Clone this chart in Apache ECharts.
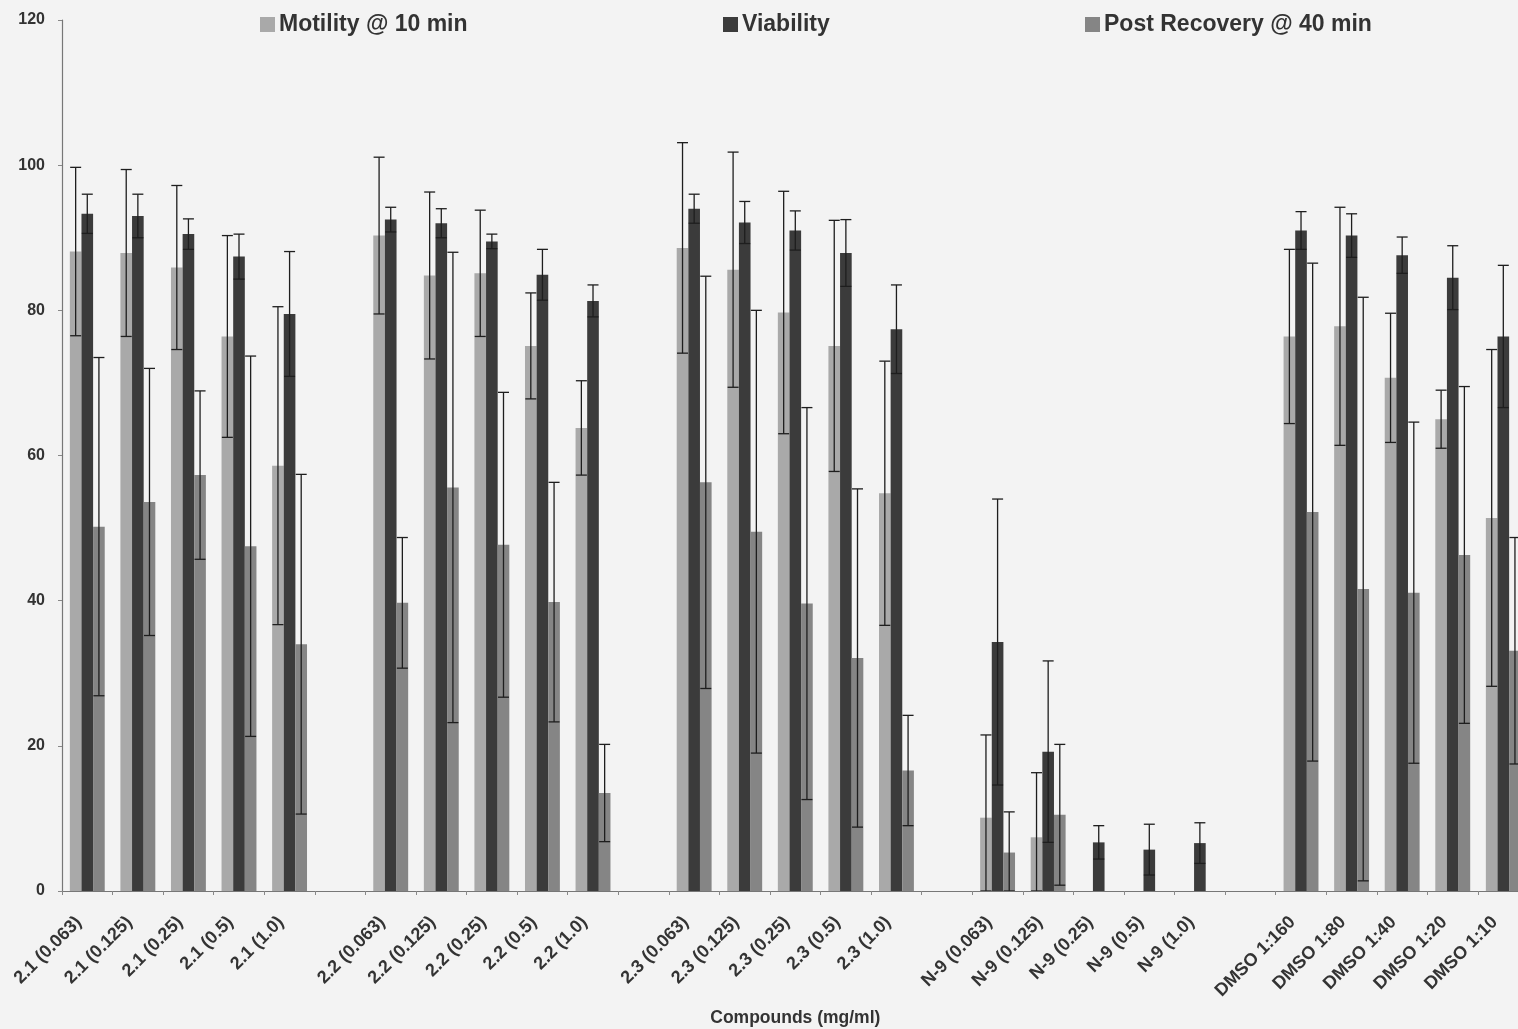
<!DOCTYPE html>
<html>
<head>
<meta charset="utf-8">
<script src="https://cdn.jsdelivr.net/npm/echarts@6/dist/echarts.min.js"></script>
<style>
html,body{margin:0;padding:0;background:#f3f3f3;overflow:hidden;width:100%;height:100%;}
#chart{position:absolute;left:0;top:0;width:1518px;height:1029px;}
</style>
</head>
<body>
<div id="chart"></div>
<script>
const categories = [
  '2.1 (0.063)','2.1 (0.125)','2.1 (0.25)','2.1 (0.5)','2.1 (1.0)',' ',
  '2.2 (0.063)','2.2 (0.125)','2.2 (0.25)','2.2 (0.5)','2.2 (1.0)','  ',
  '2.3 (0.063)','2.3 (0.125)','2.3 (0.25)','2.3 (0.5)','2.3 (1.0)','   ',
  'N-9 (0.063)','N-9 (0.125)','N-9 (0.25)','N-9 (0.5)','N-9 (1.0)','    ',
  'DMSO 1:160','DMSO 1:80','DMSO 1:40','DMSO 1:20','DMSO 1:10'
];
const seriesNames = ['Motility @ 10 min','Viability','Post Recovery @ 40 min'];
const motility    = [88.1,87.9,85.9,76.4,58.6,null, 90.3,84.8,85.1,75.1,63.8,null, 88.6,85.6,79.7,75.1,54.8,null, 10.1,7.4,0,0,0,null, 76.4,77.8,70.7,65.0,51.4];
const motilityErr = [11.6,11.5,11.3,13.9,21.9,null, 10.8,11.5,8.7,7.3,6.5,null, 14.5,16.2,16.7,17.3,18.2,null, 11.4,8.9,0,0,0,null, 12.0,16.4,8.9,4.0,23.2];
const viability    = [93.3,93.0,90.5,87.4,79.5,null, 92.5,92.0,89.5,84.9,81.3,null, 94.0,92.1,91.0,87.9,77.4,null, 34.3,19.2,6.7,5.7,6.6,null, 91.0,90.3,87.6,84.5,76.4];
const viabilityErr = [2.7,3.0,2.1,3.1,8.6,null, 1.7,2.0,1.0,3.5,2.2,null, 2.0,2.9,2.7,4.6,6.1,null, 19.7,12.5,2.3,3.5,2.8,null, 2.6,3.0,2.5,4.4,9.8];
const postRecovery    = [50.2,53.6,57.3,47.5,34.0,null, 39.7,55.6,47.7,39.8,13.5,null, 56.3,49.5,39.6,32.1,16.6,null, 5.3,10.5,0,0,0,null, 52.2,41.6,41.1,46.3,33.1];
const postRecoveryErr = [23.3,18.4,11.6,26.2,23.4,null, 9.0,32.4,21.0,16.5,6.7,null, 28.4,30.5,27.0,23.3,7.6,null, 5.6,9.7,0,0,0,null, 34.3,40.2,23.5,23.2,15.6];
const yTicks = {min:0, max:120, interval:20};

const colors = ['#a9a9a9','#3b3b3b','#858585'];
const FONT = 'Liberation Sans, Arial, sans-serif';
const GAP_FRAC = 0.31;
const BAR_FRAC = (1 - GAP_FRAC) / 3;

function errData(vals, errs){
  const out = [];
  vals.forEach((v,i)=>{ if(v!==null && errs[i]) out.push([i, v, errs[i]]); });
  return out;
}
function errSeries(vals, errs, k){
  return {
    type:'custom', name:'err'+k, z:5, silent:true, clip:true,
    encode:{x:0,y:1},
    data: errData(vals, errs),
    renderItem: function(params, api){
      const i = api.value(0), v = api.value(1), e = api.value(2);
      const band = api.size([1,0])[0];
      const off = band * BAR_FRAC * k;
      const top = api.coord([i, v + e]);
      const bot = api.coord([i, Math.max(0, v - e)]);
      const x = top[0] + off;
      const cap = 5.5;
      const st = {stroke:'#1e1e1e', lineWidth:1.3};
      return {type:'group', children:[
        {type:'line', shape:{x1:x,y1:top[1],x2:x,y2:bot[1]}, style:st},
        {type:'line', shape:{x1:x-cap,y1:top[1],x2:x+cap,y2:top[1]}, style:st},
        {type:'line', shape:{x1:x-cap,y1:bot[1],x2:x+cap,y2:bot[1]}, style:st}
      ]};
    }
  };
}
function barSeries(name, vals, color){
  return {type:'bar', name:name, data:vals, barGap:'0%', barCategoryGap:(GAP_FRAC*100)+'%',
    itemStyle:{color:color}, z:2};
}
function legendAt(left, name){
  return {show:true, left:left, top:13, padding:0, data:[name], icon:'rect', itemWidth:15, itemHeight:15, itemGap:0,
    textStyle:{fontFamily:FONT, fontWeight:'bold', fontSize:23, color:'#333', padding:[0,0,0,-1]}};
}

const chart = echarts.init(document.getElementById('chart'), null, {renderer:'canvas'});
chart.setOption({
  backgroundColor:'#f3f3f3',
  animation:false,
  color: colors,
  legend:[legendAt(260, seriesNames[0]), legendAt(723, seriesNames[1]), legendAt(1085, seriesNames[2])],
  grid:{left:62, top:20, width:1466.6, height:871, containLabel:false, outerBoundsMode:'none'},
  xAxis:{
    type:'category', data:categories,
    name:'Compounds (mg/ml)', nameLocation:'middle', nameGap:118,
    nameTextStyle:{fontFamily:FONT, fontWeight:'bold', fontSize:17.5, color:'#333'},
    axisLine:{lineStyle:{color:'#777', width:1.2}},
    axisTick:{show:true, length:4, lineStyle:{color:'#888'}},
    axisLabel:{rotate:45, interval:0, margin:20, padding:[0,12,0,0], fontFamily:FONT, fontWeight:'bold', fontSize:18, color:'#333'}
  },
  yAxis:{
    type:'value', min:yTicks.min, max:yTicks.max, interval:yTicks.interval,
    splitLine:{show:false},
    axisLine:{show:true, lineStyle:{color:'#777', width:1.2}},
    axisTick:{show:true, length:4, lineStyle:{color:'#888'}},
    axisLabel:{margin:17, fontFamily:FONT, fontWeight:'bold', fontSize:16, color:'#333'}
  },
  series:[
    barSeries(seriesNames[0], motility, colors[0]),
    barSeries(seriesNames[1], viability, colors[1]),
    barSeries(seriesNames[2], postRecovery, colors[2]),
    errSeries(motility, motilityErr, -1),
    errSeries(viability, viabilityErr, 0),
    errSeries(postRecovery, postRecoveryErr, 1)
  ]
});
</script>
</body>
</html>
